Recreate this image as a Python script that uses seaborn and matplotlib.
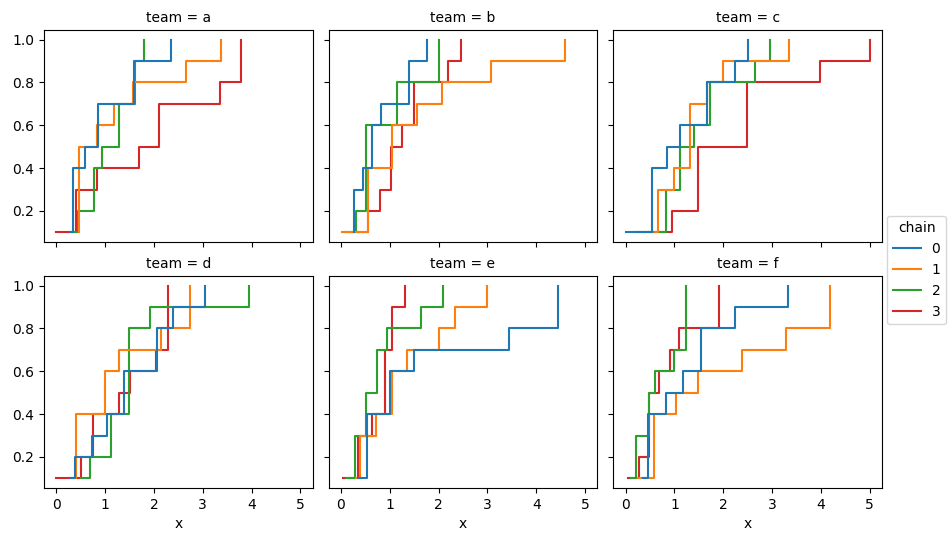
import pandas as pd
import seaborn as sns
import matplotlib
matplotlib.use("Agg")
import matplotlib.pyplot as plt

teams = ["a", "b", "c", "d", "e", "f"]
chains = ["0", "1", "2", "3"]

team_a = [
    [0.30, 0.35, 0.35, 0.35, 0.59, 0.86, 0.86, 1.60, 1.60, 2.36],
    [0.47, 0.47, 0.47, 0.47, 0.47, 0.84, 1.19, 1.57, 2.66, 3.38],
    [0.30, 0.44, 0.78, 0.78, 0.94, 1.28, 1.28, 1.62, 1.62, 1.79],
    [0.00, 0.405, 0.405, 0.845, 1.69, 2.10, 2.10, 3.35, 3.79, 3.79],
]
team_b = [
    [0.27, 0.27, 0.27, 0.45, 0.63, 0.63, 0.82, 1.40, 1.40, 1.77],
    [0.03, 0.55, 0.55, 0.55, 1.04, 1.04, 1.56, 2.07, 3.07, 4.58],
    [0.08, 0.31, 0.51, 0.51, 0.51, 0.51, 1.15, 1.15, 2.00, 2.00],
    [0.31, 0.56, 0.80, 1.02, 1.02, 1.25, 1.50, 1.50, 2.20, 2.45],
]
team_c = [
    [0.00, 0.55, 0.55, 0.55, 0.84, 1.11, 1.67, 1.67, 2.24, 2.51],
    [0.60, 0.66, 0.66, 0.99, 1.31, 1.31, 1.31, 1.67, 2.00, 3.35],
    [0.19, 0.82, 0.82, 1.11, 1.11, 1.41, 1.72, 1.72, 2.65, 2.96],
    [0.45, 0.96, 1.48, 1.48, 1.48, 2.49, 2.49, 2.49, 3.99, 5.00],
]
team_d = [
    [0.30, 0.385, 0.73, 1.05, 1.38, 1.38, 2.06, 2.06, 2.39, 3.05],
    [0.35, 0.41, 0.41, 0.41, 0.99, 0.99, 1.28, 2.14, 2.74, 2.74],
    [0.50, 0.70, 1.12, 1.12, 1.50, 1.50, 1.50, 1.50, 1.92, 3.94],
    [0.00, 0.515, 0.76, 0.76, 1.28, 1.51, 2.04, 2.29, 2.29, 2.29],
]
team_e = [
    [0.35, 0.535, 0.535, 0.535, 1.01, 1.01, 1.50, 3.45, 4.45, 4.45],
    [0.30, 0.385, 0.385, 0.72, 1.04, 1.04, 1.36, 2.01, 2.34, 2.99],
    [0.10, 0.28, 0.28, 0.51, 0.51, 0.74, 0.74, 0.95, 1.64, 2.10],
    [0.04, 0.34, 0.34, 0.63, 0.91, 0.91, 0.91, 1.04, 1.04, 1.32],
]
team_f = [
    [0.35, 0.45, 0.45, 0.45, 0.82, 1.18, 1.55, 1.55, 2.25, 3.32],
    [0.25, 0.58, 0.58, 0.58, 1.03, 1.49, 2.39, 3.29, 4.19, 4.19],
    [0.10, 0.21, 0.21, 0.47, 0.47, 0.61, 0.99, 1.24, 1.24, 1.24],
    [0.05, 0.27, 0.47, 0.47, 0.47, 0.68, 0.90, 1.10, 1.92, 1.92],
]

rows = []
for team, vals in zip(teams, [team_a, team_b, team_c, team_d, team_e, team_f]):
    for chain, xs in zip(chains, vals):
        for v in xs:
            rows.append({"team": team, "chain": chain, "x": v})
df = pd.DataFrame(rows)

g = sns.displot(data=df, x="x", col="team", hue="chain", kind="ecdf",
                col_wrap=3, height=2.7, aspect=1.1,
                facet_kws=dict(despine=False))
g.set_ylabels("")

# drop the (-inf, 0) start of each step line and let y autoscale with margins
for ax in g.axes.flat:
    for line in ax.lines:
        xd, yd = line.get_data()
        line.set_data(xd[1:], yd[1:])
        line.sticky_edges.y.clear()
    ax.relim()
for ax in g.axes.flat:
    ax.autoscale_view()

sns.move_legend(g, "center right", frameon=True)
g.figure.set_size_inches(9.53, 5.4)
g.figure.subplots_adjust(left=44/953, right=882/953, top=1-30/540,
                         bottom=1-488/540, wspace=0.06, hspace=0.16)
g.figure.savefig("out.png", dpi=100)
